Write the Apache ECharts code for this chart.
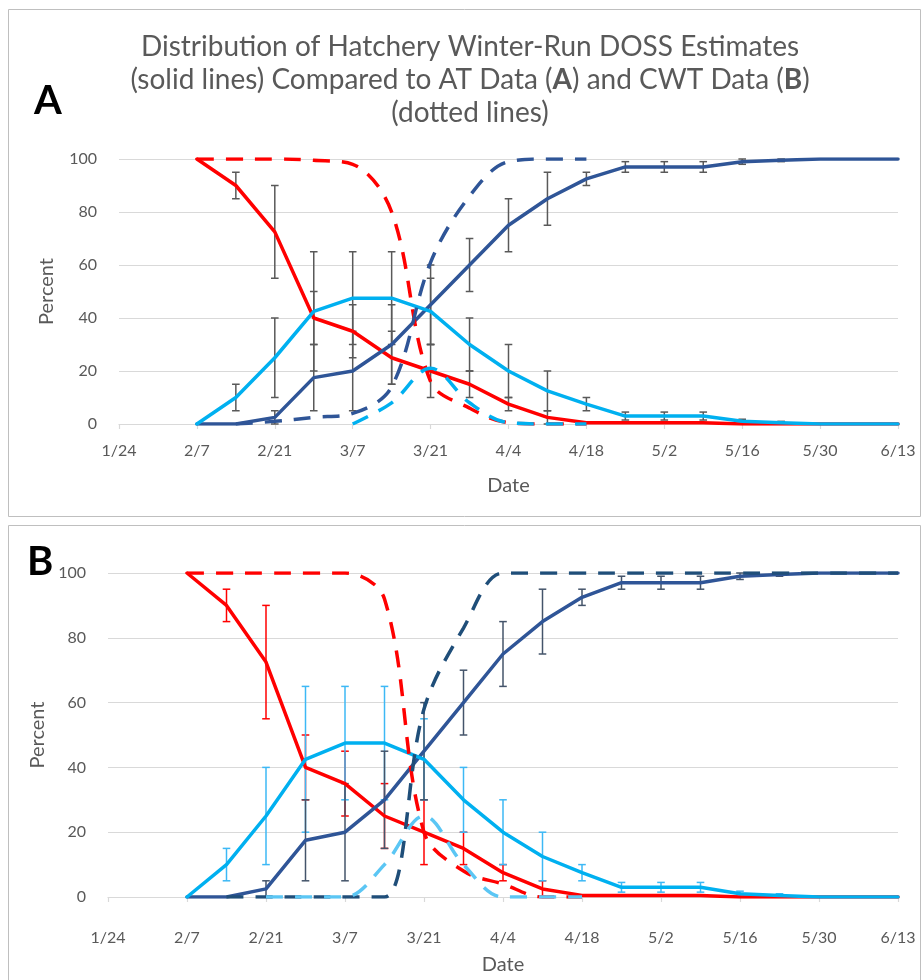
<!DOCTYPE html>
<html>
<head>
<meta charset="utf-8">
<script src="https://cdn.jsdelivr.net/npm/echarts@6/dist/echarts.min.js"></script>
<style>
  html, body { margin: 0; padding: 0; background: #ffffff; }
  #chart { width: 922px; height: 980px; }
</style>
</head>
<body>
<div id="chart"></div>
<script>
// Weekly sample dates (M/D), shared by every series
const dates = ["2/7", "2/14", "2/21", "2/28", "3/7", "3/14", "3/21", "3/28", "4/4", "4/11",
               "4/18", "4/25", "5/2", "5/9", "5/16", "5/23", "5/30", "6/6", "6/13"];
const xTickLabels = ["1/24", "2/7", "2/21", "3/7", "3/21", "4/4", "4/18", "5/2", "5/16", "5/30", "6/13"];

// DOSS estimates (solid lines), percent
const dossRed  = [100, 90, 72.5, 40, 35, 25, 20, 15, 7.5, 2.5, 0.5, 0.5, 0.5, 0.5, 0, 0, 0, 0, 0];
const dossCyan = [0, 10, 25, 42.5, 47.5, 47.5, 42.5, 30, 20, 12.5, 7.5, 3, 3, 3, 1, 0.5, 0, 0, 0];
const dossBlue = [0, 0, 2.5, 17.5, 20, 30, 45, 60, 75, 85, 92.5, 97, 97, 97, 99, 99.5, 100, 100, 100];

// Half-width of the error bar at each date (null = no bar)
const errRed  = [null, 5, 17.5, 10, 10, 10, 10, 5, 2.5, 2.5, null, null, null, null, null, null, null, null, null];
const errCyan = [null, 5, 15, 22.5, 17.5, 17.5, 12.5, 10, 10, 7.5, 2.5, 1.5, 1.5, 1.5, 0.8, 0.5, null, null, null];
const errBlue = [null, null, 2.5, 12.5, 15, 15, 15, 10, 10, 10, 2.5, 2, 2, 2, 1, 0.5, null, null, null];

// AT data (panel A, dashed lines)
const atRed  = [100, 100, 100, 99.5, 98, 80, 16, 6, 0.5, 0, 0, null, null, null, null, null, null, null, null];
const atCyan = [null, null, null, null, 0, 8, 21, 8, 0.5, 0, 0, null, null, null, null, null, null, null, null];
const atBlue = [null, 0, 1, 2.5, 4, 14, 61, 86, 99, 100, 100, null, null, null, null, null, null, null, null];

// CWT data (panel B, dashed lines)
const cwtRed  = [100, 100, 100, 100, 100, 92, 20, 8, 4, 0, 0, null, null, null, null, null, null, null, null];
const cwtCyan = [null, null, 0, 0, 0, 10, 25, 10, 0, 0, 0, null, null, null, null, null, null, null, null];
const cwtBlue = [null, 0, 0, 0, 0, 0, 58, 83, 100, 100, 100, 100, 100, 100, 100, 100, 100, 100, 100];

// ---- helpers -------------------------------------------------------------
const monthLen = [31, 28, 31, 30, 31, 30, 31];
function dayOfYear(md) {
  const [m, d] = md.split("/").map(Number);
  let n = d;
  for (let i = 0; i < m - 1; i++) n += monthLen[i];
  return n;
}
const origin = dayOfYear(xTickLabels[0]);
const dayOf = md => dayOfYear(md) - origin;
const xMax = dayOf(xTickLabels[xTickLabels.length - 1]);

function pairs(values) {
  const out = [];
  values.forEach((v, i) => { if (v !== null) out.push([dayOf(dates[i]), v]); });
  return out;
}

const RED = "#FF0000", CYAN = "#00B0F0", BLUE = "#2F5597";
const FONT = "Lato, 'Open Sans', sans-serif";
const TXT = "#595959";

function solid(name, values, color, idx, z) {
  return {
    name, type: "line", xAxisIndex: idx, yAxisIndex: idx,
    data: pairs(values), showSymbol: false, symbol: "none",
    lineStyle: { color, width: 3.5, cap: "round", join: "round" },
    z, silent: true, animation: false
  };
}
function dashed(name, values, color, idx, z) {
  return {
    name, type: "line", xAxisIndex: idx, yAxisIndex: idx,
    data: pairs(values), showSymbol: false, symbol: "none", smooth: 0.35,
    lineStyle: { color, width: 3.5, type: [17, 12], cap: "butt" },
    z, silent: true, animation: false
  };
}
function errorBars(name, values, errs, color, idx) {
  const data = [];
  values.forEach((v, i) => {
    if (errs[i] !== null) data.push([dayOf(dates[i]), v - errs[i], v + errs[i]]);
  });
  return {
    name, type: "custom", xAxisIndex: idx, yAxisIndex: idx, z: 1, silent: true, animation: false,
    encode: { x: 0, y: [1, 2] },
    renderItem(params, api) {
      const x = api.value(0);
      const lo = api.coord([x, api.value(1)]);
      const hi = api.coord([x, api.value(2)]);
      const h = 3.8;
      const style = { stroke: color, lineWidth: 1.5 };
      return {
        type: "group",
        children: [
          { type: "line", shape: { x1: lo[0], y1: lo[1], x2: hi[0], y2: hi[1] }, style },
          { type: "line", shape: { x1: lo[0] - h, y1: lo[1], x2: lo[0] + h, y2: lo[1] }, style },
          { type: "line", shape: { x1: hi[0] - h, y1: hi[1], x2: hi[0] + h, y2: hi[1] }, style }
        ]
      };
    },
    data
  };
}

function xAxis(idx, labelMargin, nameGap) {
  return {
    type: "value", gridIndex: idx, min: 0, max: xMax, interval: 14,
    name: "Date", nameLocation: "middle", nameGap,
    nameTextStyle: { color: TXT, fontSize: 20, fontFamily: FONT },
    axisLine: { show: true, lineStyle: { color: "#D9D9D9", width: 1.2 } },
    axisTick: { show: true, length: 5, lineStyle: { color: "#D9D9D9", width: 1.2 } },
    splitLine: { show: false },
    axisLabel: {
      color: TXT, fontSize: 16, fontFamily: FONT, margin: labelMargin,
      formatter: v => xTickLabels[Math.round(v / 14)] || ""
    }
  };
}
function yAxis(idx, nameGap) {
  return {
    type: "value", gridIndex: idx, min: 0, max: 100, interval: 20,
    name: "Percent", nameLocation: "middle", nameGap, nameRotate: 90,
    nameTextStyle: { color: TXT, fontSize: 20, fontFamily: FONT },
    axisLine: { show: false }, axisTick: { show: false },
    splitLine: { lineStyle: { color: "#D9D9D9", width: 1.2 } },
    axisLabel: { color: TXT, fontSize: 16, fontFamily: FONT, margin: 22 }
  };
}

const chart = echarts.init(document.getElementById("chart"), null, { renderer: "canvas" });
chart.setOption({
  animation: false,
  backgroundColor: "#ffffff",
  title: {
    left: 465, top: 25, textAlign: "center",
    text: "Distribution of Hatchery Winter-Run DOSS Estimates\n(solid lines) Compared to AT Data ({b|A}) and CWT Data ({b|B})\n(dotted lines)",
    textStyle: {
      color: TXT, fontSize: 28, fontWeight: "normal", fontFamily: FONT, lineHeight: 33,
      rich: { b: { color: TXT, fontSize: 28, fontWeight: "bold", fontFamily: FONT, lineHeight: 33 } }
    }
  },
  graphic: [
    { type: "rect", z: -10, shape: { x: 8.5, y: 9.5, width: 912, height: 507 },
      style: { fill: "none", stroke: "#BFBFBF", lineWidth: 1 } },
    { type: "rect", z: -10, shape: { x: 8.5, y: 525.5, width: 912, height: 470 },
      style: { fill: "none", stroke: "#BFBFBF", lineWidth: 1 } },
    { type: "text", left: 34, top: 81,
      style: { text: "A", fill: "#000000", font: "bold 40px " + FONT } },
    { type: "text", left: 27, top: 542,
      style: { text: "B", fill: "#000000", font: "bold 40px " + FONT } }
  ],
  grid: [
    { left: 119, top: 159, width: 779, height: 265 },
    { left: 108, top: 573, width: 790, height: 324 }
  ],
  xAxis: [xAxis(0, 19, 52), xAxis(1, 33, 58)],
  yAxis: [yAxis(0, 62), yAxis(1, 60)],
  series: [
    // panel A
    errorBars("errRedA", dossRed, errRed, "#595959", 0),
    errorBars("errCyanA", dossCyan, errCyan, "#595959", 0),
    errorBars("errBlueA", dossBlue, errBlue, "#595959", 0),
    solid("DOSS red A", dossRed, RED, 0, 3),
    solid("DOSS blue A", dossBlue, BLUE, 0, 4),
    solid("DOSS cyan A", dossCyan, CYAN, 0, 5),
    dashed("AT red", atRed, RED, 0, 6),
    dashed("AT blue", atBlue, BLUE, 0, 7),
    dashed("AT cyan", atCyan, CYAN, 0, 8),
    // panel B
    errorBars("errRedB", dossRed, errRed, "#FF0000", 1),
    errorBars("errCyanB", dossCyan, errCyan, "#3DB8F5", 1),
    errorBars("errBlueB", dossBlue, errBlue, "#44546A", 1),
    solid("DOSS red B", dossRed, RED, 1, 3),
    solid("DOSS blue B", dossBlue, BLUE, 1, 4),
    solid("DOSS cyan B", dossCyan, CYAN, 1, 5),
    dashed("CWT red", cwtRed, RED, 1, 6),
    dashed("CWT blue", cwtBlue, "#1F4E79", 1, 7),
    dashed("CWT cyan", cwtCyan, "#5BC6F4", 1, 8)
  ]
});
</script>
</body>
</html>
